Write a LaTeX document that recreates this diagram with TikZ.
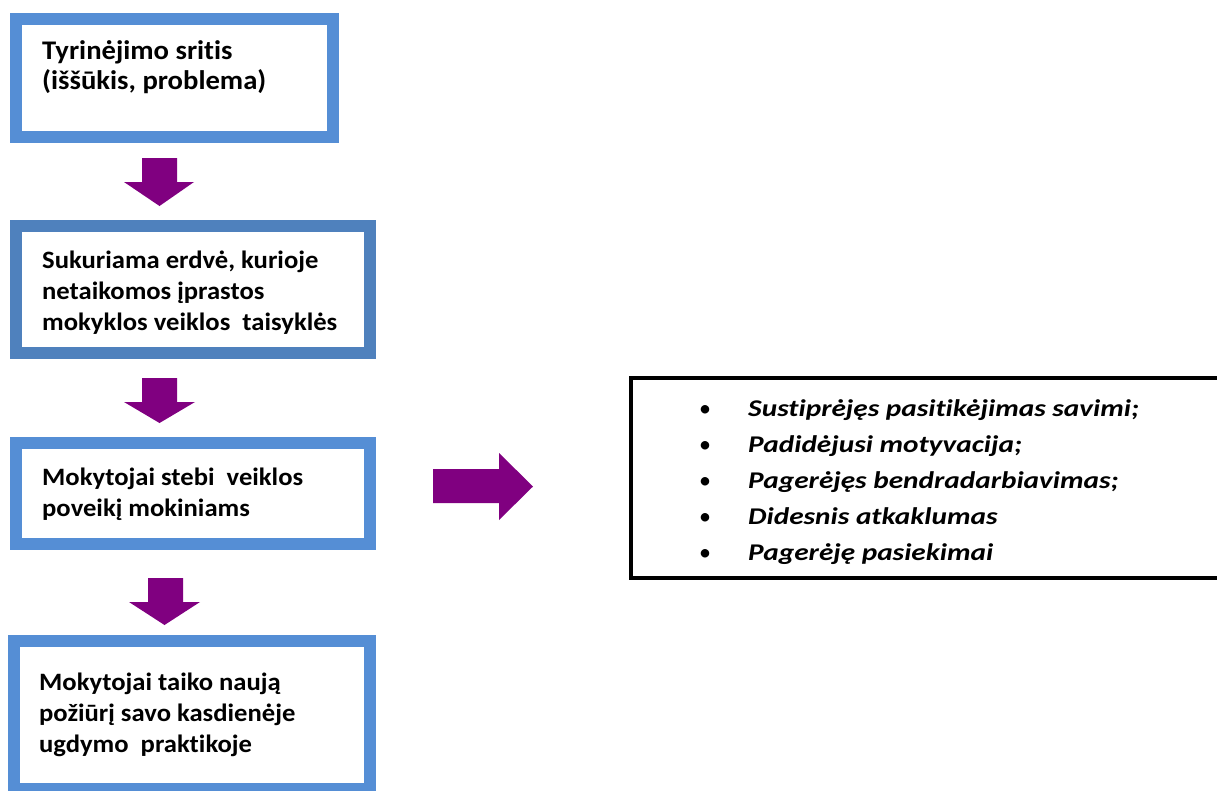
\documentclass[tikz,border=0pt]{standalone}
\usepackage{fontspec}
\setmainfont{Carlito}[Ligatures=NoCommon, FakeStretch=1.065]
\newfontfamily\listfont{Carlito}[Ligatures=NoCommon, FakeStretch=1.22]
\newfontfamily\bulfont{Carlito}
\definecolor{boxblue}{HTML}{558ED5}
\definecolor{boxbluedark}{HTML}{4F81BD}
\definecolor{arrowpurple}{HTML}{800080}
\newcommand\lbul{\makebox[0pt][c]{\bulfont\mdseries\upshape •}\hspace{43pt}}
\tikzset{
  lbox/.style={draw=boxblue, line width=12pt, fill=white, inner sep=0pt, rectangle},
  ltxt/.style={anchor=north west, inner sep=0pt, align=left, font=\fontsize{25}{31}\selectfont\bfseries},
  rtxt/.style={anchor=north west, inner sep=0pt, align=left, font=\fontsize{24}{36}\selectfont\listfont\bfseries\itshape},
  parrow/.style={fill=arrowpurple, draw=none}
}
\begin{document}
\begin{tikzpicture}[x=1pt,y=-1pt]
\useasboundingbox (0,0) rectangle (1217,790);
% boxes
\node[lbox, minimum width=317pt, minimum height=118pt] (b1) at (174.5,78) {};
\node[lbox, draw=boxbluedark, minimum width=354pt, minimum height=127pt] (b2) at (193,289.5) {};
\node[lbox, minimum width=354pt, minimum height=101pt] (b3) at (193,493.5) {};
\node[lbox, minimum width=356pt, minimum height=148pt] (b4) at (192,715) {};
\node[draw=black, line width=4pt, rectangle, inner sep=0pt, minimum width=609pt, minimum height=200pt] (rb) at (935.5,478) {};
% texts
\node[ltxt, font=\fontsize{26.9}{30.5}\selectfont\bfseries] (t1) at (42,38) {\rule{0pt}{21pt}Tyrinėjimo sritis\\(iššūkis, problema)};
\node[ltxt] (t2) at (42,248) {\rule{0pt}{20pt}Sukuriama erdvė, kurioje\\netaikomos įprastos\\mokyklos veiklos\ \ taisyklės};
\node[ltxt] (t3) at (42,465) {\rule{0pt}{20pt}Mokytojai stebi\ \ veiklos\\poveikį mokiniams};
\node[ltxt] (t4) at (39,670) {\rule{0pt}{20pt}Mokytojai taiko naują\\požiūrį savo kasdienėje\\ugdymo\ \ praktikoje};
\node[rtxt] (rl) at (705,396) {%
\rule{0pt}{20pt}\lbul Sustiprėjęs pasitikėjimas savimi;\\
\lbul Padidėjusi motyvacija;\\
\lbul Pagerėjęs bendradarbiavimas;\\
\lbul Didesnis atkaklumas\\
\lbul Pagerėję pasiekimai};
% arrows
\fill[parrow] (142,158) -- (177,158) -- (177,182) -- (194,182) -- (159.5,206) -- (124,182) -- (142,182) -- cycle;
\fill[parrow] (142,378) -- (177,378) -- (177,402) -- (195,402) -- (159.5,423) -- (124,402) -- (142,402) -- cycle;
\fill[parrow] (148,578) -- (183,578) -- (183,602) -- (200,602) -- (164.5,625) -- (129,602) -- (148,602) -- cycle;
\fill[parrow] (433,469) -- (499,469) -- (499,453) -- (533,486.5) -- (499,520) -- (499,503) -- (433,503) -- cycle;
\end{tikzpicture}
\end{document}
